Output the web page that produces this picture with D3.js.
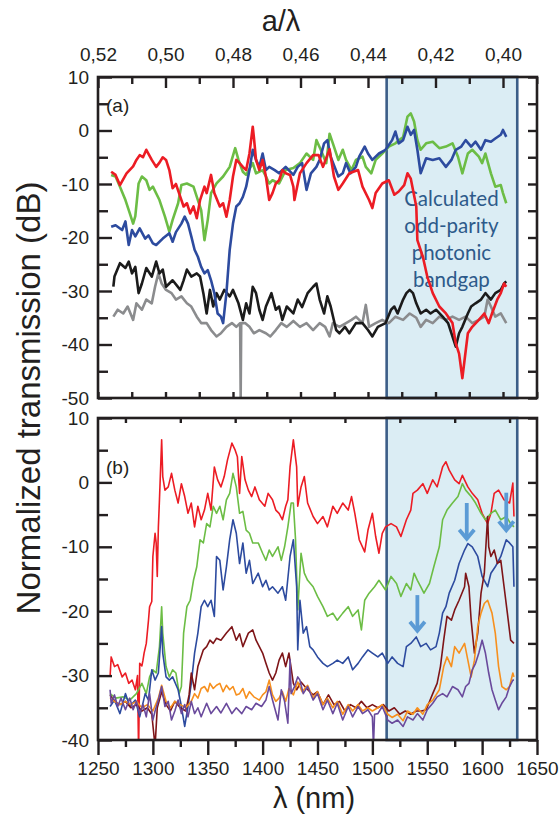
<!DOCTYPE html>
<html><head><meta charset="utf-8">
<script src="https://cdn.jsdelivr.net/npm/d3@7/dist/d3.min.js"></script>
<style>
html,body{margin:0;padding:0;background:#fff;}
svg{display:block;}
</style></head>
<body>
<svg id="chart" width="560" height="815"></svg>
<script>
// ---------- tick values / labels ----------
const aOverLambdaTicks = [0.52, 0.50, 0.48, 0.46, 0.44, 0.42, 0.40];
const aOverLambdaMinor = [0.51, 0.49, 0.47, 0.45, 0.43, 0.41, 0.39];
const wavelengthTicks = [1250, 1300, 1350, 1400, 1450, 1500, 1550, 1600, 1650];
const wavelengthMinor = [1275, 1325, 1375, 1425, 1475, 1525, 1575, 1625];
const panelATicks = [10, 0, -10, -20, -30, -40, -50];
const panelAMinor = [5, -5, -15, -25, -35, -45];
const panelBTicks = [10, 0, -10, -20, -30, -40];
const panelBMinor = [5, -5, -15, -25, -35];
const bandgapRange = [1513, 1632];
const bandgapText = ["Calculated", "odd-parity", "photonic", "bandgap"];
// arrows: [wavelength, dB start, dB tip]
const arrowsB = [[1541, -17.5, -23.2], [1586, -3.2, -8.9], [1622, -1.6, -7.6]];

// ---------- panel (a) series: [wavelength nm, dB] ----------
const redA = [[1262,-7.7],[1266,-8.3],[1270,-10.2],[1276,-8],[1282,-6.7],[1285,-5.5],[1288,-4.6],[1291,-5],[1294,-3.6],[1299,-5.5],[1303,-6.8],[1306,-6],[1309,-5],[1312,-5.5],[1315,-7.4],[1318,-10.8],[1321,-10],[1325,-12.4],[1328,-14.2],[1331,-13.6],[1334,-15.5],[1337,-14.2],[1340,-16.4],[1343,-13],[1347,-10.5],[1349,-11.7],[1353,-8.3],[1356,-11.7],[1361,-14.2],[1364,-13.6],[1367,-16.1],[1370,-13],[1373,-8.6],[1376,-5.5],[1379,-6.1],[1382,-6.8],[1385,-7.4],[1388,-4.3],[1391,0.7],[1392,-1.2],[1394,-5.5],[1397,-7.4],[1400,-5.5],[1403,-8.6],[1406,-13],[1409,-11.7],[1412,-9.9],[1415,-9.3],[1418,-7.4],[1421,-8],[1425,-8.3],[1428,-10.5],[1429,-13],[1434,-8],[1440,-6.1],[1446,-4.6],[1451,-4.6],[1455,-6.8],[1461,-3.5],[1465,-8.6],[1469,-11.1],[1473,-9.9],[1479,-8],[1487,-7.4],[1491,-10.5],[1497,-13],[1500,-14.5],[1503,-11.7],[1509,-9.9],[1515,-9.3],[1520,-12],[1524,-11.4],[1529,-10.2],[1532,-8],[1535,-9],[1540,-14.2],[1541,-20.5],[1546,-23.6],[1550,-27.3],[1555,-30.4],[1561,-32.9],[1567,-34.2],[1573,-36],[1576,-39.8],[1579,-41.7],[1582,-46.3],[1584,-42.9],[1587,-37.9],[1591,-36.7],[1597,-35.4],[1602,-34.2],[1606,-36],[1609,-34.2],[1614,-31.5],[1617,-30.4],[1620,-28.6],[1622,-29.2]];
const greenA = [[1262,-8.3],[1266,-8.6],[1270,-10.5],[1275,-13],[1279,-15.5],[1282,-17.4],[1284,-16],[1287,-9.9],[1290,-8.6],[1294,-9.3],[1297,-11.1],[1300,-10.5],[1306,-13],[1311,-16.1],[1315,-18.9],[1318,-16.7],[1323,-13.6],[1326,-10.2],[1331,-9.9],[1337,-10.5],[1341,-13],[1344,-14.9],[1347,-20.5],[1350,-16.7],[1353,-11.7],[1358,-9.9],[1364,-8.6],[1370,-6.8],[1375,-3.3],[1378,-5.5],[1382,-7.7],[1385,-8.3],[1391,-6.1],[1394,-8],[1400,-7.4],[1403,-8.6],[1406,-9.9],[1409,-9.3],[1415,-9.9],[1421,-7.4],[1428,-7],[1434,-6.1],[1440,-4.3],[1446,-5.5],[1449,-1.8],[1453,-3.6],[1458,-6.1],[1461,-0.6],[1464,-2.4],[1469,-5.5],[1473,-3.6],[1476,-5.5],[1481,-7.4],[1485,-5.5],[1491,-4.9],[1494,-6.8],[1499,-8],[1503,-5.5],[1509,-4.3],[1515,-3],[1521,-2.4],[1528,-1.2],[1532,2.6],[1535,3.2],[1538,1.7],[1541,-1.8],[1544,-3.6],[1549,-2.4],[1555,-2.1],[1561,-3.3],[1567,-3],[1573,-2.4],[1578,-4.9],[1582,-8],[1587,-4.3],[1591,-3.6],[1597,-4.9],[1600,-6.1],[1603,-4.3],[1608,-8],[1612,-10.5],[1617,-10.2],[1619,-11.7],[1622,-13.6]];
const blueA = [[1262,-18],[1266,-17.7],[1272,-18.6],[1275,-17],[1278,-21.4],[1281,-18.6],[1284,-19.8],[1288,-18.3],[1293,-20.2],[1296,-19.6],[1300,-21.1],[1303,-21.4],[1309,-20.2],[1315,-19.2],[1318,-20.8],[1321,-19],[1326,-17.4],[1329,-16.1],[1332,-17.4],[1335,-19.8],[1338,-22.3],[1341,-23.6],[1344,-25.5],[1347,-26.7],[1350,-26.1],[1353,-28],[1356,-30.4],[1359,-34.2],[1362,-34.8],[1364,-36],[1367,-30.4],[1370,-22.3],[1373,-17.4],[1376,-14.2],[1379,-13.6],[1382,-12.4],[1385,-10.5],[1388,-7.4],[1391,-3.6],[1394,-5.5],[1397,-6.8],[1400,-4.3],[1403,-7.4],[1406,-6.8],[1411,-7.4],[1415,-8],[1421,-6.8],[1428,-8.3],[1432,-6.8],[1436,-6.1],[1440,-11.1],[1444,-8],[1449,-6.8],[1452,-5.5],[1456,-2.4],[1459,-1.8],[1462,-4.9],[1469,-8.6],[1473,-8],[1476,-6.1],[1480,-8],[1485,-6.8],[1488,-4.9],[1493,-3],[1496,-4.3],[1500,-5.5],[1506,-4.3],[1512,-3.6],[1518,-1.8],[1521,-0.2],[1524,-2.4],[1528,-1.8],[1532,0.7],[1535,-0.8],[1538,0.1],[1541,-3.6],[1544,-8],[1549,-5.2],[1555,-5.5],[1561,-5.2],[1567,-6.8],[1572,-5.5],[1576,-3.6],[1581,-3],[1585,-1.8],[1590,-3],[1594,-2.1],[1599,-3.6],[1603,-1.8],[1608,-2.1],[1612,-1.5],[1617,-0.8],[1619,0.1],[1622,-1.2]];
const blackA = [[1264,-29.2],[1265,-27.3],[1270,-24.8],[1275,-25.7],[1278,-24.5],[1281,-26.7],[1284,-25.5],[1287,-30.4],[1290,-28.6],[1294,-25.7],[1299,-27.3],[1303,-24.5],[1306,-26.7],[1309,-26],[1312,-29.2],[1318,-28],[1325,-29.8],[1328,-28],[1331,-26],[1335,-27.3],[1340,-26.7],[1343,-27.3],[1346,-30.4],[1349,-34.2],[1352,-29.8],[1355,-32.9],[1358,-30.4],[1361,-31.6],[1365,-29.8],[1370,-31],[1373,-29.8],[1378,-32.3],[1382,-35.4],[1385,-32.3],[1388,-34.2],[1391,-29.2],[1394,-30.4],[1397,-33.5],[1400,-35.4],[1403,-32.9],[1408,-30.4],[1412,-33.5],[1415,-32.9],[1418,-35.4],[1422,-32.9],[1428,-34.2],[1432,-31.6],[1436,-33],[1441,-30.4],[1446,-29.2],[1449,-28.6],[1452,-31.6],[1456,-34.2],[1459,-31],[1462,-32.9],[1467,-37.3],[1470,-37.9],[1475,-36.7],[1479,-37.9],[1485,-36],[1491,-36],[1496,-37.3],[1500,-38.5],[1505,-36.7],[1512,-36],[1517,-33.5],[1520,-32.9],[1523,-34.2],[1528,-31.6],[1531,-30.4],[1534,-29.8],[1537,-30.4],[1540,-32.3],[1544,-34.2],[1549,-33.5],[1553,-34.2],[1558,-33.5],[1564,-34.8],[1569,-36],[1573,-38.5],[1576,-40.4],[1579,-37.9],[1582,-36.7],[1587,-34.2],[1590,-32.9],[1594,-32.3],[1599,-31.6],[1603,-30.4],[1608,-31.6],[1612,-30.4],[1617,-29.8],[1620,-28.6],[1622,-28.2]];
const grayA = [[1264,-34.8],[1268,-33.5],[1273,-34.2],[1277,-32.9],[1282,-35.4],[1285,-32.3],[1290,-33.5],[1294,-31.6],[1299,-32.3],[1302,-29.2],[1305,-26.7],[1308,-28.6],[1312,-29.8],[1317,-30.4],[1321,-31.6],[1326,-31],[1331,-32.3],[1335,-32.9],[1340,-34.8],[1344,-36],[1349,-36],[1353,-37.3],[1358,-38.5],[1362,-37.9],[1367,-36.7],[1372,-36],[1376,-36.7],[1379.5,-36],[1380,-50],[1380.5,-36],[1384,-36],[1388,-36.7],[1392,-37.9],[1397,-37.3],[1403,-37.9],[1407,-38.5],[1412,-37.3],[1417,-36],[1422,-36.7],[1428,-35.6],[1434,-36.7],[1440,-36],[1446,-37.3],[1452,-36],[1457,-36.7],[1461,-38.5],[1464,-36],[1470,-36.7],[1476,-36],[1481,-35.4],[1485,-34.8],[1491,-36],[1494,-32.6],[1497,-36.7],[1503,-36],[1509,-35.4],[1515,-36],[1521,-34.8],[1528,-35.4],[1534,-34.2],[1540,-35],[1544,-36.7],[1549,-35.4],[1555,-36],[1561,-34.8],[1567,-35.4],[1573,-34.8],[1579,-35.4],[1585,-34.8],[1591,-36],[1597,-35.4],[1602,-34.8],[1605,-31.6],[1608,-32.9],[1612,-34.8],[1617,-34.2],[1622,-36]];

// ---------- panel (b) series ----------
const redB = [[1261,-30.2],[1262,-27.1],[1265,-28.6],[1268,-28.3],[1272,-30.2],[1275,-29.6],[1278,-31.2],[1281,-30.7],[1284,-32.2],[1286,-30],[1287,-42],[1288,-28.1],[1290,-28.5],[1291,-27.6],[1292,-26.5],[1294,-25],[1296,-21.4],[1297,-19.3],[1299,-18.5],[1300,-11.5],[1302,-7.9],[1303,-9.4],[1304,-14.6],[1305,-7],[1306,-2.7],[1308,6.6],[1309,0.9],[1311,-1.2],[1314,-0.7],[1317,1.4],[1320,-1.2],[1323,-3.2],[1326,-0.2],[1329,-2.2],[1332,-4.8],[1335,-3.2],[1338,-6.9],[1341,-3.7],[1344,-5.8],[1347,-4.3],[1350,-1.7],[1353,-4.3],[1356,2.4],[1359,0.4],[1362,-0.7],[1365,0.9],[1368,3.5],[1372,6.1],[1375,5],[1377,4],[1379,-1.7],[1381,4],[1384,0.4],[1387,-1.2],[1390,-2.2],[1393,-0.7],[1397,-2.7],[1402,-3.7],[1405,-1.7],[1409,-2.7],[1412,-4.3],[1415,-4.8],[1418,-5.8],[1421,-3.7],[1423,-2.7],[1425,2.4],[1428,6.6],[1431,2.4],[1432,-3.7],[1435,-0.7],[1438,0.9],[1441,-3.2],[1446,-5.3],[1450,-6.4],[1455,-5.3],[1459,-6.9],[1464,-3.7],[1468,-4.8],[1473,-3.2],[1478,-4.3],[1481,-2.2],[1484,-4.8],[1488,-8.9],[1493,-10.8],[1496,-7.4],[1500,-4.8],[1503,-8.4],[1506,-11],[1509,-7.9],[1512,-6.9],[1517,-6.4],[1522,-6.9],[1526,-8.4],[1531,-5.8],[1535,-4.3],[1537,-1.7],[1541,-1.2],[1546,-0.2],[1550,-1.7],[1555,0.4],[1559,-0.7],[1564,2.4],[1567,3.2],[1570,1.9],[1575,0.4],[1579,-0.2],[1582,1.1],[1587,-0.7],[1591,-1.7],[1596,-2.7],[1600,-4.8],[1605,-6.4],[1608,-4.8],[1611,-1.7],[1615,-1.2],[1620,-2.7],[1625,-3.2],[1628,-0.1],[1629,-5.3]];
const greenB = [[1261,-32.8],[1266,-33.5],[1273,-33.3],[1279,-33.8],[1285,-32.8],[1290,-31.2],[1294,-32.8],[1297,-30.2],[1300,-29.1],[1303,-29.6],[1306,-25.5],[1308,-19.3],[1309,-23.4],[1312,-28.6],[1315,-30.2],[1318,-29.1],[1321,-29.6],[1324,-32.8],[1326,-31.7],[1328,-23.4],[1331,-19.3],[1334,-18.3],[1337,-15.2],[1340,-13.1],[1343,-8.9],[1346,-9.4],[1349,-6.4],[1352,-6.9],[1355,-3.7],[1358,-4.8],[1361,-3.7],[1364,-5.8],[1367,-2.7],[1370,-1.7],[1373,1.4],[1376,-0.7],[1379,-4.8],[1382,-4.5],[1385,-7.4],[1388,-7.9],[1391,-9.4],[1396,-9.4],[1400,-11],[1403,-12.1],[1406,-10.5],[1409,-11.5],[1414,-10],[1417,-12.1],[1420,-10],[1423,-6.9],[1426,-3.2],[1428,-3.2],[1430,-8.9],[1432,-19.8],[1435,-11],[1438,-14.1],[1441,-15.2],[1446,-16.2],[1450,-17.7],[1455,-19.3],[1459,-20.8],[1464,-20.3],[1468,-21.4],[1473,-20.3],[1478,-19.3],[1482,-20.8],[1487,-19.8],[1490,-22.9],[1493,-18.3],[1497,-17.2],[1502,-16.2],[1506,-15.2],[1512,-16.7],[1517,-14.6],[1522,-15.7],[1526,-17.7],[1531,-15.7],[1535,-16.7],[1538,-14.1],[1541,-15.2],[1544,-16.2],[1547,-17.2],[1552,-15.7],[1556,-13.1],[1561,-10],[1564,-5.8],[1568,-4.3],[1573,-3.2],[1578,-2.2],[1582,-0.2],[1585,-1.2],[1590,-2.2],[1594,-3.2],[1599,-4.8],[1603,-5.8],[1608,-4.8],[1612,-4.3],[1617,-5.8],[1622,-5.3],[1626,-6.4],[1629,-6.9]];
const blueB = [[1261,-34.8],[1265,-33.8],[1270,-35.9],[1275,-32.8],[1279,-34.8],[1284,-33.8],[1288,-36.4],[1293,-32.8],[1296,-33.8],[1299,-29.1],[1302,-30.7],[1305,-29.6],[1308,-22.4],[1309,-26.5],[1312,-30.2],[1315,-30.7],[1318,-30.2],[1323,-32.2],[1326,-34.8],[1329,-37.9],[1332,-34.8],[1335,-31.2],[1338,-26.5],[1341,-23.4],[1344,-19.3],[1347,-18.3],[1350,-19.3],[1353,-18.3],[1356,-20.8],[1358,-11.5],[1361,-12.1],[1364,-16.7],[1367,-13.1],[1370,-8.9],[1373,-5.8],[1376,-7.9],[1379,-12.6],[1382,-9.4],[1385,-14.1],[1388,-12.1],[1391,-15.7],[1396,-14.1],[1400,-16.2],[1403,-15.2],[1406,-16.7],[1409,-16.2],[1414,-17.2],[1418,-16.2],[1421,-18.3],[1425,-11.5],[1428,-8.9],[1431,-16.2],[1432,-26],[1434,-18.3],[1437,-23.4],[1440,-22.4],[1443,-25.5],[1446,-26],[1450,-27.1],[1455,-28.1],[1459,-28.6],[1464,-28.1],[1468,-27.6],[1473,-28.1],[1478,-27.1],[1482,-29.1],[1487,-28.1],[1491,-27.1],[1496,-26],[1500,-26.5],[1505,-27.1],[1509,-26.5],[1514,-28.1],[1518,-27.1],[1523,-28.1],[1528,-28.6],[1531,-25.5],[1535,-25],[1540,-24],[1544,-25.5],[1549,-25],[1553,-26],[1558,-25.5],[1561,-23.4],[1564,-20.3],[1567,-19.3],[1570,-17.2],[1575,-15.2],[1579,-12.6],[1584,-10.5],[1587,-9.5],[1591,-10],[1596,-11.5],[1600,-14.6],[1605,-16.2],[1608,-14.1],[1612,-13.1],[1617,-11.5],[1622,-8.9],[1625,-9.4],[1628,-10],[1629,-16.2]];
const darkRedB = [[1261,-33],[1265,-34],[1270,-34.5],[1275,-34],[1280,-35],[1285,-34.5],[1290,-35.5],[1295,-35],[1299,-36],[1302,-41],[1304,-35],[1308,-32.5],[1312,-34.5],[1316,-35.5],[1320,-34],[1325,-35],[1330,-35.5],[1333,-33],[1335,-29.6],[1338,-32.2],[1341,-28.6],[1346,-26],[1349,-25.5],[1352,-24.5],[1355,-25],[1358,-24.2],[1362,-24.5],[1367,-23.4],[1372,-22.4],[1376,-24.5],[1379,-23.5],[1382,-25.5],[1387,-23.4],[1391,-22.9],[1394,-24.5],[1397,-25.5],[1400,-26.5],[1403,-28.1],[1406,-29.6],[1409,-30.7],[1412,-29.6],[1415,-27.6],[1418,-26.5],[1421,-28.6],[1424,-26.5],[1428,-31.2],[1431,-32.2],[1435,-31],[1440,-32],[1446,-33],[1450,-32.5],[1455,-34.5],[1460,-33],[1465,-34.5],[1470,-34],[1475,-35.5],[1480,-34.5],[1485,-35],[1490,-34],[1495,-35],[1500,-34.5],[1505,-35],[1510,-34.5],[1515,-35.5],[1520,-35],[1525,-36],[1530,-35.5],[1535,-36],[1540,-35.5],[1545,-35.5],[1549,-35.3],[1555,-32.8],[1559,-31.2],[1562,-28.6],[1565,-24.5],[1568,-20.8],[1572,-21.4],[1575,-19.8],[1579,-18.3],[1584,-16.2],[1585,-14.1],[1588,-16.2],[1590,-21.4],[1593,-26.5],[1596,-23.4],[1599,-17.2],[1602,-14.1],[1605,-5.3],[1606,-10],[1608,-11.5],[1611,-10.5],[1614,-12.6],[1617,-12.1],[1620,-16.2],[1623,-20.3],[1626,-24.5],[1629,-25]];
const orangeB = [[1261,-33.5],[1265,-34],[1270,-34.5],[1275,-34],[1280,-34.5],[1285,-34],[1290,-35],[1295,-34.5],[1300,-35.5],[1305,-33.5],[1308,-31.5],[1312,-34],[1316,-35],[1320,-34],[1325,-34.5],[1330,-35],[1335,-34],[1338,-32.8],[1341,-33.5],[1344,-32],[1347,-31.7],[1350,-32.5],[1352,-31.2],[1355,-32],[1358,-31.5],[1361,-31.2],[1364,-32.5],[1367,-31.5],[1370,-32.2],[1373,-31.7],[1376,-33],[1379,-32.8],[1382,-32],[1385,-33.5],[1388,-32.5],[1392,-33.3],[1397,-33.8],[1400,-33],[1403,-32.5],[1406,-30.7],[1409,-33],[1412,-34],[1415,-33.5],[1418,-32.5],[1421,-34],[1424,-32],[1428,-33],[1432,-31],[1436,-32.5],[1441,-31.5],[1446,-33.5],[1450,-32.5],[1455,-34.5],[1459,-33.5],[1464,-35],[1468,-34],[1473,-36],[1478,-34.5],[1482,-35.5],[1487,-34.5],[1491,-35.5],[1496,-35],[1500,-35.5],[1505,-35],[1509,-34.5],[1514,-36],[1518,-36.5],[1523,-36],[1528,-37],[1532,-35.5],[1537,-36],[1541,-35],[1546,-36],[1550,-34.5],[1555,-33.8],[1561,-32.2],[1565,-28.6],[1568,-27.1],[1572,-28.6],[1575,-25.5],[1579,-26.5],[1584,-25],[1587,-27.6],[1590,-30.2],[1593,-27.6],[1596,-22.4],[1599,-20.3],[1602,-18.8],[1605,-18.3],[1609,-20.3],[1612,-23.4],[1615,-28.6],[1618,-31.7],[1622,-32.2],[1625,-31.7],[1628,-29.6],[1629,-30.2]];
const purpleB = [[1261,-32.2],[1262,-34.3],[1265,-33],[1268,-34.8],[1271,-33.5],[1275,-35.3],[1279,-33.5],[1282,-35.3],[1285,-34],[1288,-35.9],[1291,-34.5],[1294,-36.4],[1297,-32.8],[1300,-36.9],[1302,-35.5],[1305,-33.8],[1308,-31.7],[1311,-34.8],[1314,-34],[1317,-36.9],[1320,-35.5],[1323,-33.8],[1326,-35.9],[1329,-34.5],[1332,-36.4],[1335,-34],[1338,-35.9],[1341,-35],[1344,-36.4],[1349,-34.3],[1353,-35.9],[1358,-34.8],[1362,-35.8],[1367,-34.3],[1372,-35.9],[1376,-35],[1381,-35.9],[1385,-34.8],[1390,-35.3],[1394,-34.3],[1399,-34.8],[1403,-33.8],[1406,-31.7],[1409,-33.8],[1414,-36.9],[1417,-32.2],[1420,-34],[1423,-37.4],[1425,-27.5],[1426,-32.8],[1429,-31.7],[1432,-30.2],[1434,-30.7],[1437,-32.8],[1441,-31.7],[1446,-33.8],[1450,-32.8],[1455,-35.3],[1459,-33.8],[1464,-35.9],[1468,-34.3],[1473,-36.9],[1478,-34.8],[1482,-36.4],[1487,-34.8],[1491,-35.9],[1496,-35.3],[1500,-36.4],[1501,-41],[1502,-36],[1505,-35.9],[1509,-34.8],[1514,-36.9],[1518,-37.4],[1523,-36.9],[1528,-37.9],[1532,-36.4],[1537,-36.9],[1541,-35.9],[1546,-36.9],[1550,-35.3],[1555,-34.3],[1559,-33.3],[1564,-32.8],[1568,-33.3],[1573,-31.7],[1578,-32.2],[1582,-33.3],[1585,-31.7],[1588,-31.2],[1591,-29.1],[1594,-28.1],[1597,-26.5],[1600,-24.5],[1603,-26.5],[1606,-29.6],[1609,-32.2],[1612,-33.8],[1615,-35.3],[1618,-34.3],[1622,-33.3],[1625,-31.7],[1628,-30.7],[1629,-30.7]];

// ---------- layout ----------
const INK = "#231f20";
const FONT = "'Liberation Sans', Arial, sans-serif";
const svg = d3.select("#chart");

const x = d3.scaleLinear().domain([1250, 1650]).range([98, 537]);
const xa = d3.scaleLinear().domain([0.52, 0.39]).range([98, 536.75]);
const yA = d3.scaleLinear().domain([-50, 10]).range([398, 77]);
const yB = d3.scaleLinear().domain([-40, 10]).range([740, 418]);

const defs = svg.append("defs");
defs.append("clipPath").attr("id", "clipA").append("rect")
  .attr("x", x(1250)).attr("y", yA(10)).attr("width", x(1650) - x(1250)).attr("height", yA(-50) - yA(10));
defs.append("clipPath").attr("id", "clipB").append("rect")
  .attr("x", x(1250)).attr("y", yB(10)).attr("width", x(1650) - x(1250)).attr("height", yB(-40) - yB(10));

function shade(y) {
  svg.append("rect")
    .attr("x", x(bandgapRange[0])).attr("y", y.range()[1])
    .attr("width", x(bandgapRange[1]) - x(bandgapRange[0]))
    .attr("height", y.range()[0] - y.range()[1])
    .attr("fill", "#dbedf4").attr("stroke", "#3c5e88").attr("stroke-width", 2.6);
}
const line = (y) => d3.line().x(d => x(d[0])).y(d => y(d[1]));

// ---- Panel A ----
shade(yA);
const tx = svg.append("text").attr("font-family", "Lato, 'Open Sans', sans-serif")
  .attr("font-size", 20.5).attr("fill", "#2d5a8a").attr("text-anchor", "middle");
bandgapText.forEach((t, i) => {
  tx.append("tspan").attr("x", x(1572)).attr("y", 206 + i * 27).text(t);
});
const seriesA = [
  [grayA, "#8b8c8e"], [blackA, "#1b1b1b"], [greenA, "#6cbd45"], [blueA, "#2d4b9f"], [redA, "#ec1c24"]
];
const linesA = svg.append("g").attr("clip-path", "url(#clipA)");
seriesA.forEach(([d, c]) => {
  linesA.append("path").datum(d).attr("d", line(yA)).attr("fill", "none")
    .attr("stroke", c).attr("stroke-width", 2.6).attr("stroke-linejoin", "round");
});

// ---- Panel B ----
shade(yB);
const seriesB = [
  [redB, "#ec1c24"], [greenB, "#6cbd45"], [blueB, "#2d4b9f"], [darkRedB, "#7e1518"], [orangeB, "#f7901e"], [purpleB, "#6a4a9c"]
];
const linesB = svg.append("g").attr("clip-path", "url(#clipB)");
seriesB.forEach(([d, c]) => {
  linesB.append("path").datum(d).attr("d", line(yB)).attr("fill", "none")
    .attr("stroke", c).attr("stroke-width", 1.6).attr("stroke-linejoin", "round");
});

// arrows
const arrowG = svg.append("g").attr("stroke", "#5b9bd5").attr("fill", "none").attr("stroke-width", 3.8);
arrowsB.forEach(([w, d0, d1]) => {
  const ax = x(w), y0 = yB(d0), y1 = yB(d1);
  arrowG.append("line").attr("x1", ax).attr("x2", ax).attr("y1", y0).attr("y2", y1 - 2);
  arrowG.append("polyline").attr("points", `${ax - 7.5},${y1 - 10} ${ax},${y1 - 1} ${ax + 7.5},${y1 - 10}`)
    .attr("stroke-linejoin", "miter");
});

// ---- axes ----
function styleAxis(g) {
  g.select(".domain").remove();
  g.selectAll(".tick line").attr("stroke", INK).attr("stroke-width", 2.4);
  g.selectAll(".tick text").attr("fill", INK).attr("font-family", FONT).attr("font-size", 19);
}
const L = x(1250), R = x(1650);
const plain = d => String(d);

// panel A left
svg.append("g").attr("transform", `translate(${L},0)`)
  .call(d3.axisLeft(yA).tickValues(panelATicks).tickSize(-14).tickPadding(9).tickFormat(plain)).call(styleAxis);
svg.append("g").attr("transform", `translate(${L},0)`)
  .call(d3.axisLeft(yA).tickValues(panelAMinor).tickSize(-10).tickFormat("")).call(styleAxis);
// panel A right
svg.append("g").attr("transform", `translate(${R},0)`)
  .call(d3.axisRight(yA).tickValues(panelATicks.concat(panelAMinor)).tickSize(-9).tickFormat("")).call(styleAxis);
// panel A top (a/lambda)
svg.append("g").attr("transform", `translate(0,${yA(10)})`)
  .call(d3.axisTop(xa).tickValues(aOverLambdaTicks).tickSize(-11).tickPadding(16)
    .tickFormat(d => d3.format(".2f")(d).replace(".", ","))).call(styleAxis);
svg.append("g").attr("transform", `translate(0,${yA(10)})`)
  .call(d3.axisTop(xa).tickValues(aOverLambdaMinor).tickSize(-7).tickFormat("")).call(styleAxis);
// panel A bottom (a/lambda, inward)
svg.append("g").attr("transform", `translate(0,${yA(-50)})`)
  .call(d3.axisBottom(xa).tickValues(aOverLambdaTicks.concat(aOverLambdaMinor)).tickSize(-6).tickFormat("")).call(styleAxis);

// panel B left
svg.append("g").attr("transform", `translate(${L},0)`)
  .call(d3.axisLeft(yB).tickValues(panelBTicks).tickSize(-14).tickPadding(9).tickFormat(plain)).call(styleAxis);
svg.append("g").attr("transform", `translate(${L},0)`)
  .call(d3.axisLeft(yB).tickValues(panelBMinor).tickSize(-10).tickFormat("")).call(styleAxis);
// panel B right
svg.append("g").attr("transform", `translate(${R},0)`)
  .call(d3.axisRight(yB).tickValues(panelBTicks.concat(panelBMinor)).tickSize(-9).tickFormat("")).call(styleAxis);
// panel B top
svg.append("g").attr("transform", `translate(0,${yB(10)})`)
  .call(d3.axisTop(x).tickValues(wavelengthMinor).tickSize(-5).tickFormat("")).call(styleAxis);
// panel B bottom
svg.append("g").attr("transform", `translate(0,${yB(-40)})`)
  .call(d3.axisBottom(x).tickValues(wavelengthTicks).tickSize(15).tickPadding(7).tickFormat(plain)).call(styleAxis);
svg.append("g").attr("transform", `translate(0,${yB(-40)})`)
  .call(d3.axisBottom(x).tickValues(wavelengthMinor).tickSize(7).tickFormat("")).call(styleAxis);

// frames
[yA, yB].forEach(y => {
  svg.append("rect").attr("x", L).attr("y", y.range()[1]).attr("width", R - L)
    .attr("height", y.range()[0] - y.range()[1])
    .attr("fill", "none").attr("stroke", INK).attr("stroke-width", 2.6);
});

// panel labels
svg.append("text").attr("x", 106).attr("y", 112).attr("font-family", FONT).attr("font-size", 19)
  .attr("fill", INK).text("(a)");
svg.append("text").attr("x", 106).attr("y", 474).attr("font-family", FONT).attr("font-size", 19)
  .attr("fill", INK).text("(b)");

// axis titles
svg.append("text").attr("x", 281).attr("y", 31).attr("text-anchor", "middle")
  .attr("font-family", FONT).attr("font-size", 29).attr("fill", INK).text("a/λ");
svg.append("text").attr("x", 314).attr("y", 808).attr("text-anchor", "middle")
  .attr("font-family", FONT).attr("font-size", 29).attr("fill", INK).text("λ (nm)");
svg.append("text").attr("transform", "translate(40,398) rotate(-90)").attr("text-anchor", "middle")
  .attr("font-family", FONT).attr("font-size", 33).attr("fill", INK).text("Normalized transmission (dB)");
</script>
</body></html>
